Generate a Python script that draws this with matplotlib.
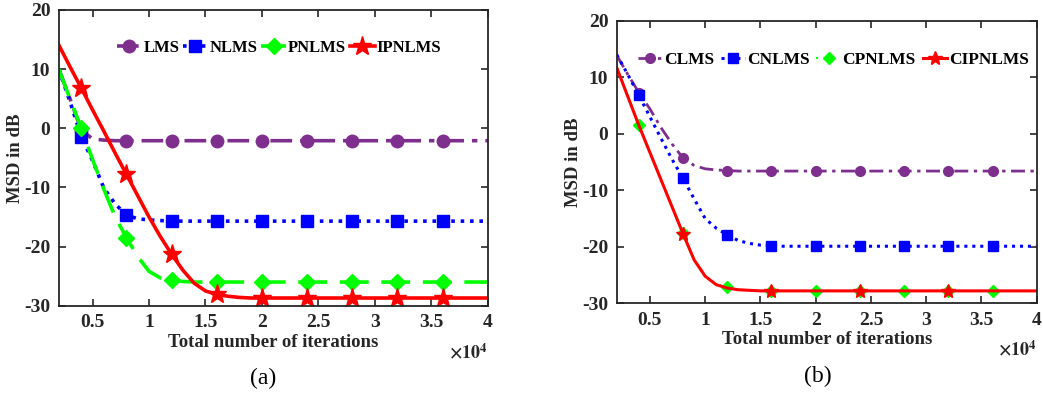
import numpy as np
import matplotlib
matplotlib.use('Agg')
import matplotlib.pyplot as plt

plt.rcParams['font.family'] = ['Liberation Serif', 'DejaVu Serif']
plt.rcParams['font.weight'] = 'bold'
plt.rcParams['mathtext.fontset'] = 'stix'

# iterations (x-axis, shared by all curves)
iters = [2000, 3000, 4000, 5000, 6000, 7000, 8000, 9000, 10000, 11000,
         12000, 13000, 14000, 15000, 16000, 17000, 18000, 19000, 20000,
         24000, 28000, 32000, 36000, 40000]
marker_iters = [4000, 8000, 12000, 16000, 20000, 24000, 28000, 32000, 36000]

# panel (a)
lms = [10.1, 5.0, -0.3, -1.8, -2.0, -2.1, -2.1, -2.1, -2.1, -2.1,
       -2.1, -2.1, -2.1, -2.1, -2.1, -2.1, -2.1, -2.1, -2.1,
       -2.1, -2.1, -2.1, -2.1, -2.1]
nlms = [10.0, 4.5, -1.4, -5.5, -10.1, -12.8, -14.7, -15.3, -15.5, -15.6,
        -15.7, -15.7, -15.7, -15.7, -15.7, -15.7, -15.7, -15.7, -15.7,
        -15.7, -15.7, -15.7, -15.7, -15.7]
pnlms = [10.0, 5.0, 0.0, -5.3, -10.3, -15.0, -18.5, -21.7, -24.2, -25.3,
         -25.7, -25.9, -26.0, -26.0, -26.0, -26.0, -26.0, -26.0, -26.0,
         -26.0, -26.0, -26.0, -26.0, -26.0]
ipnlms = [14.1, 10.4, 6.8, 3.1, -0.5, -4.2, -7.8, -11.4, -15.0, -18.3,
          -21.3, -24.0, -26.2, -27.5, -28.1, -28.4, -28.6, -28.7, -28.7,
          -28.7, -28.7, -28.7, -28.7, -28.7]

# panel (b)
clms = [13.9, 10.5, 7.3, 4.4, 1.1, -1.8, -4.3, -5.6, -6.2, -6.4,
        -6.5, -6.6, -6.6, -6.6, -6.6, -6.6, -6.6, -6.6, -6.6,
        -6.6, -6.6, -6.6, -6.6, -6.6]
cnlms = [14.0, 10.5, 6.8, 3.0, -0.8, -4.5, -7.9, -11.5, -15.0, -16.7,
         -17.9, -18.9, -19.4, -19.7, -19.8, -19.9, -19.9, -19.9, -19.9,
         -19.9, -19.9, -19.9, -19.9, -19.9]
cpnlms = [11.7, 6.6, 1.5, -3.3, -8.1, -12.8, -17.5, -22.2, -25.1, -26.6,
          -27.2, -27.6, -27.7, -27.8, -27.8, -27.8, -27.8, -27.8, -27.8,
          -27.8, -27.8, -27.8, -27.8, -27.8]
cipnlms = [11.7, 6.6, 1.5, -3.3, -8.1, -12.9, -17.7, -22.3, -25.2, -26.7,
           -27.3, -27.6, -27.7, -27.8, -27.8, -27.8, -27.8, -27.8, -27.8,
           -27.8, -27.8, -27.8, -27.8, -27.8]
cipnlms_marker_iters = [8000, 16000, 24000, 32000]

xticks = [0.5, 1, 1.5, 2, 2.5, 3, 3.5, 4]
yticks = [-30, -20, -10, 0, 10, 20]

PURPLE = '#7E2F8E'
BLUE = '#0000FF'
GREEN = '#00FF00'
RED = '#FF0000'
DARK = '#262626'


def marks(x_list):
    return [iters.index(v) for v in x_list]


def style_axes(ax, ylab_x):
    x = np.array(iters) / 1e4
    ax.set_xlim(0.2, 4)
    ax.set_ylim(-30, 20)
    ax.set_xticks(xticks)
    ax.set_xticklabels(['0.5', '1', '1.5', '2', '2.5', '3', '3.5', '4'],
                       fontweight='bold')
    ax.set_yticks(yticks)
    ax.set_yticklabels([str(v) for v in yticks], fontweight='bold')
    ax.tick_params(direction='in', top=True, right=True, length=5,
                   width=1.2, colors=DARK, labelsize=14, pad=6)
    for s in ax.spines.values():
        s.set_linewidth(1.3)
        s.set_color(DARK)
    ax.set_xlabel('Total number of iterations', fontsize=13.5,
                  fontweight='bold', color=DARK, labelpad=2)
    ax.set_ylabel('MSD in dB', fontsize=13.5, fontweight='bold', color=DARK)
    ax.yaxis.set_label_coords(ylab_x, 0.5)
    return x


fig = plt.figure(figsize=(10.43, 3.98), dpi=100)
ax1 = fig.add_axes([0.0563, 0.2319, 0.4113, 0.743])
ax2 = fig.add_axes([0.5913, 0.2379, 0.4027, 0.710])

# ---- (a) ----
x = style_axes(ax1, -0.080)
ax1.plot(x, lms, color=PURPLE, lw=2.6, dashes=(6, 2.2, 1.5, 2.2),
         marker='o', ms=9, markevery=marks(marker_iters), label='LMS')
ax1.plot(x, nlms, color=BLUE, lw=2.6, dashes=(1, 1.6),
         marker='s', ms=8, markevery=marks(marker_iters), label='NLMS')
ax1.plot(x, pnlms, color=GREEN, lw=2.6, dashes=(8, 3.5),
         marker='D', ms=8, markevery=marks(marker_iters), label='PNLMS')
ax1.plot(x, ipnlms, color=RED, lw=2.6, ls='-',
         marker='*', ms=14, markevery=marks(marker_iters), label='IPNLMS')
ax1.legend(loc='center left', bbox_to_anchor=(0.135, 0.872), ncol=4,
           frameon=False, borderpad=0, borderaxespad=0, handlelength=1.5,
           handletextpad=0.1, columnspacing=0.22,
           prop={'weight': 'bold', 'size': 12})
ax1.text(1.0, -0.157, r'$\times\mathbf{10}^{\mathbf{4}}$', transform=ax1.transAxes,
         ha='right', va='center', fontsize=13, color=DARK)

# ---- (b) ----
x = style_axes(ax2, -0.083)
ax2.plot(x, clms, color=PURPLE, lw=2.0, dashes=(5, 2, 1.2, 2),
         marker='o', ms=7, markevery=marks(marker_iters), label='CLMS')
ax2.plot(x, cnlms, color=BLUE, lw=2.2, dashes=(1, 1.6),
         marker='s', ms=7, markevery=marks(marker_iters), label='CNLMS')
ax2.plot(x, cpnlms, color=GREEN, lw=1.5, dashes=(1, 12),
         marker='D', ms=6, markevery=marks(marker_iters), label='CPNLMS')
ax2.plot(x, cipnlms, color=RED, lw=2.2, ls='-',
         marker='*', ms=10, markevery=marks(cipnlms_marker_iters), label='CIPNLMS')
ax2.legend(loc='center left', bbox_to_anchor=(0.05, 0.861), ncol=4,
           frameon=False, borderpad=0, borderaxespad=0, handlelength=1.4,
           handletextpad=0.1, columnspacing=0.4,
           prop={'weight': 'bold', 'size': 12.5})
ax2.text(1.0, -0.165, r'$\times\mathbf{10}^{\mathbf{4}}$', transform=ax2.transAxes,
         ha='right', va='center', fontsize=13, color=DARK)

fig.text(0.252, 0.050, '(a)', ha='center', va='center', fontsize=17,
         fontweight='normal')
fig.text(0.784, 0.055, '(b)', ha='center', va='center', fontsize=17,
         fontweight='normal')

fig.savefig('out.png', dpi=100)
